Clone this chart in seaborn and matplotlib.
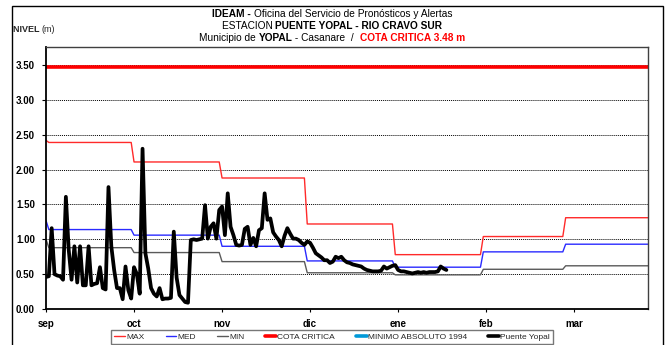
import matplotlib
matplotlib.use("Agg")
import matplotlib.pyplot as plt
from matplotlib.lines import Line2D
from matplotlib.patches import Rectangle
import numpy as np
import pandas as pd
import seaborn as sns

# ---- data -------------------------------------------------------------
# day index of each month start (Sep 1 = 0), season runs to day 212
month_starts = [0, 30, 61, 91, 122, 153, 182]
season_end = 212
month_labels = ["sep", "oct", "nov", "dic", "ene", "feb", "mar"]
tick_days = [0, 31, 62, 93, 124, 155, 186]

# monthly reference levels (m); first value is the closing August level
max_aug, max_month = 2.42, [2.39, 2.11, 1.88, 1.22, 0.78, 1.04, 1.31]
med_aug, med_month = 1.27, [1.14, 1.06, 0.90, 0.69, 0.60, 0.82, 0.93]
min_aug, min_month = 1.00, [0.88, 0.81, 0.68, 0.52, 0.49, 0.57, 0.62]
cota_critica = 3.48

# daily observed level at Puente Yopal (m), from Sep 1
yopal = [
    0.46, 0.47, 1.16, 0.50, 0.48, 0.47, 0.42, 1.61, 0.85, 0.42,
    0.90, 0.38, 0.90, 0.34, 0.34, 0.90, 0.34, 0.36, 0.37, 0.60,
    0.30, 0.28, 1.75, 0.90, 0.56, 0.30, 0.30, 0.14, 0.61, 0.27,
    0.15, 0.60, 0.50, 0.22, 2.30, 0.80, 0.58, 0.30, 0.22, 0.18,
    0.30, 0.14, 0.15, 0.15, 0.16, 1.11, 0.45, 0.20, 0.15, 0.10,
    0.09, 0.99, 1.00, 0.99, 1.00, 1.01, 1.49, 1.01, 1.18, 1.23,
    1.01, 1.42, 1.47, 1.06, 1.66, 1.18, 1.06, 0.92, 0.91, 0.92,
    1.15, 1.18, 0.92, 1.02, 0.90, 1.13, 1.16, 1.66, 1.28, 1.30,
    1.10, 1.04, 0.99, 0.90, 1.05, 1.16, 1.08, 1.01, 1.01, 0.99,
    0.95, 0.92, 0.97, 0.95, 0.88, 0.80, 0.77, 0.74, 0.70, 0.70,
    0.66, 0.68, 0.75, 0.73, 0.75, 0.70, 0.67, 0.66, 0.64, 0.63,
    0.62, 0.61, 0.58, 0.56, 0.55, 0.54, 0.54, 0.54, 0.55, 0.61,
    0.58, 0.60, 0.62, 0.63, 0.56, 0.54, 0.54, 0.53, 0.52, 0.51,
    0.52, 0.53, 0.52, 0.53, 0.52, 0.53, 0.53, 0.53, 0.54, 0.61,
    0.58, 0.56,
]


def monthly_steps(first, values):
    """Step curve: each month's level, ramping in over the first day."""
    ends = month_starts[1:] + [season_end]
    xs, ys = [0], [first]
    for start, end, v in zip(month_starts, ends, values):
        xs += [start + 1, end]
        ys += [v, v]
    return pd.DataFrame({"dia": xs, "nivel": ys})


df_max = monthly_steps(max_aug, max_month)
df_med = monthly_steps(med_aug, med_month)
df_min = monthly_steps(min_aug, min_month)
df_cota = pd.DataFrame({"dia": [0, season_end], "nivel": [cota_critica] * 2})
df_yopal = pd.DataFrame({"dia": np.arange(len(yopal)), "nivel": yopal})

# ---- style ------------------------------------------------------------
sns.set_style("white")
plt.rcParams["font.family"] = ["Liberation Sans", "DejaVu Sans"]

W, H = 671, 345
fig = plt.figure(figsize=(W / 100, H / 100), dpi=100)
ax = fig.add_axes([46 / W, 1 - 309 / H, 602 / W, 262 / H])

c_max, c_med, c_min = "#ff2a2a", "#2a2aff", "#5a5a5a"
c_cota, c_minabs, c_obs = "#ff0000", "#0099d8", "#000000"

sns.lineplot(data=df_max, x="dia", y="nivel", ax=ax, color=c_max, lw=1.0,
             estimator=None, sort=False)
sns.lineplot(data=df_med, x="dia", y="nivel", ax=ax, color=c_med, lw=1.0,
             estimator=None, sort=False)
sns.lineplot(data=df_min, x="dia", y="nivel", ax=ax, color=c_min, lw=1.0,
             estimator=None, sort=False)
sns.lineplot(data=df_cota, x="dia", y="nivel", ax=ax, color=c_cota, lw=2.6,
             estimator=None, sort=False)
sns.lineplot(data=df_yopal, x="dia", y="nivel", ax=ax, color=c_obs, lw=2.7,
             estimator=None, sort=False)

ax.set_xlim(0, season_end)
ax.set_ylim(0, 3.76)
ax.set_xlabel("")
ax.set_ylabel("")

ax.set_yticks(np.arange(0, 3.51, 0.5))
ax.set_yticklabels([f"{v:.2f}" for v in np.arange(0, 3.51, 0.5)],
                   fontsize=7, fontweight="bold")
ax.set_xticks(tick_days)
ax.set_xticklabels(month_labels, fontsize=7, fontweight="bold")
ax.tick_params(axis="y", direction="out", length=3, width=0.8, pad=5,
               left=True, colors="black")
ax.tick_params(axis="x", direction="out", length=2, width=0.8, pad=5,
               bottom=True, colors="black")

for y in np.arange(0.5, 3.51, 0.5):
    ax.axhline(y, color="black", lw=0.7, ls=(0, (1, 1)), zorder=0.5)

for side in ("left", "bottom"):
    ax.spines[side].set_color("black")
    ax.spines[side].set_linewidth(1.3)
for side in ("top", "right"):
    ax.spines[side].set_color("#404040")
    ax.spines[side].set_linewidth(1.0)

# outer frame of the figure
fig.patches.append(Rectangle((12 / W, -0.02), (663 - 12) / W, 1 - 6 / H + 0.02,
                             transform=fig.transFigure, fill=False,
                             edgecolor="black", lw=1.0))

# ---- header with mixed weights -----------------------------------------
renderer = fig.canvas.get_renderer()


def rich_line(cx, cy, parts, size):
    texts = []
    for s, weight, color in parts:
        t = fig.text(0, 1 - cy / H, s, fontsize=size, fontweight=weight,
                     color=color, ha="left", va="center")
        texts.append(t)
    widths = [t.get_window_extent(renderer).width for t in texts]
    x = cx - sum(widths) / 2
    for t, w in zip(texts, widths):
        t.set_x(x / W)
        x += w


rich_line(332, 14, [("IDEAM - ", "bold", "black"),
                    ("Oficina del Servicio de Pronósticos y Alertas", "normal", "black")], 7.3)
rich_line(332, 26, [("ESTACION ", "normal", "black"),
                    ("PUENTE YOPAL - RIO CRAVO SUR", "bold", "black")], 7.3)
rich_line(332, 38, [("Municipio de ", "normal", "black"),
                    ("YOPAL", "bold", "black"),
                    (" - Casanare  /  ", "normal", "black"),
                    ("COTA CRITICA 3.48 m", "bold", "#ff0000")], 7.3)

t1 = fig.text(13 / W, 1 - 29 / H, "NIVEL ", fontsize=6.5, fontweight="bold",
              ha="left", va="center")
w1 = t1.get_window_extent(renderer).width
fig.text((13 + w1) / W, 1 - 29 / H, "(m)", fontsize=6.5, ha="left", va="center")

# ---- legend -------------------------------------------------------------
handles = [
    Line2D([], [], color=c_max, lw=1.0),
    Line2D([], [], color=c_med, lw=1.0),
    Line2D([], [], color=c_min, lw=1.0),
    Line2D([], [], color=c_cota, lw=2.6),
    Line2D([], [], color=c_minabs, lw=2.6),
    Line2D([], [], color=c_obs, lw=2.6),
]
labels = ["MAX", "MED", "MIN", "COTA CRITICA", "MINIMO ABSOLUTO 1994", "Puente Yopal"]
leg = fig.legend(handles, labels, loc="upper center", ncol=6,
                 bbox_to_anchor=(332 / W, 1 - 330 / H), fontsize=6,
                 frameon=True, fancybox=False, handlelength=1.3,
                 handletextpad=0.15, columnspacing=2.5, borderpad=0.35,
                 borderaxespad=0)
leg.get_frame().set_edgecolor("#555555")
leg.get_frame().set_linewidth(1.0)

fig.savefig("out.png", dpi=100)
